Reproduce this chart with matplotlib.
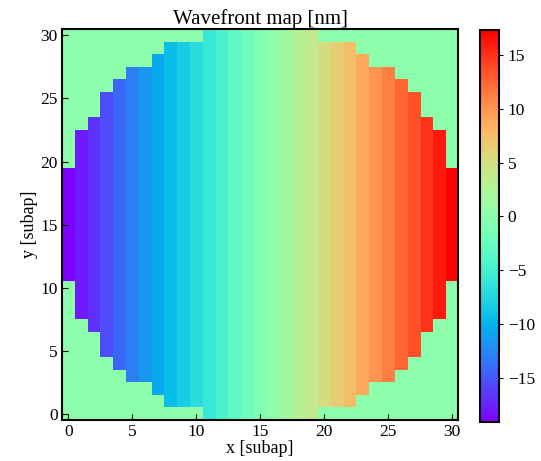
import numpy as np
import matplotlib
matplotlib.use("Agg")
import matplotlib.pyplot as plt

# Wavefront value per column (x index 0..30), nm
column_values = [-19.1, -17.9, -16.7, -15.5, -14.2, -13.0, -11.8, -10.6, -9.4, -8.2,
                 -7.0, -5.8, -4.5, -3.3, -2.1, -0.9, 0.3, 1.5, 2.7, 3.9,
                 5.2, 6.4, 7.6, 8.8, 10.0, 11.2, 12.4, 13.6, 14.9, 16.1, 17.3]
# First illuminated column in each row (y index 0..30); last = 30 - first
row_start = [11, 8, 7, 5, 4, 3, 3, 2, 1, 1, 1, 0, 0, 0, 0, 0, 0, 0, 0, 0,
             1, 1, 1, 2, 3, 3, 4, 5, 7, 8, 11]
outside_value = 0.0

n = len(column_values)
wf = np.full((len(row_start), n), outside_value)
for r, s in enumerate(row_start):
    for c in range(s, n - s):
        wf[r, c] = column_values[c]

plt.rcParams['font.family'] = ['Liberation Serif', 'DejaVu Serif']
plt.rcParams['mathtext.fontset'] = 'stix'

fig = plt.figure(figsize=(5.41, 4.61), dpi=100)
ax = fig.add_axes([0.1146, 0.0889, 0.732, 0.848])
im = ax.imshow(wf, cmap='rainbow', origin='lower', interpolation='nearest',
               aspect='auto', vmin=min(column_values), vmax=max(column_values))
ax.set_xticks([0, 5, 10, 15, 20, 25, 30])
ax.set_yticks([0, 5, 10, 15, 20, 25, 30])
ax.tick_params(direction='in', labelsize=12.5, length=4, pad=3)
for sp in ax.spines.values():
    sp.set_linewidth(1.5)
ax.set_title('Wavefront map [nm]', fontsize=15, pad=2)
ax.set_xlabel('x [subap]', fontsize=13, labelpad=0)
ax.set_ylabel('y [subap]', fontsize=13, labelpad=2)

cax = fig.add_axes([0.887, 0.0846, 0.035, 0.850])
cb = fig.colorbar(im, cax=cax)
cb.set_ticks([-15, -10, -5, 0, 5, 10, 15])
cb.ax.tick_params(labelsize=12.5, direction='out', length=3)
cb.outline.set_linewidth(1.5)

fig.savefig('out.png', dpi=100)
